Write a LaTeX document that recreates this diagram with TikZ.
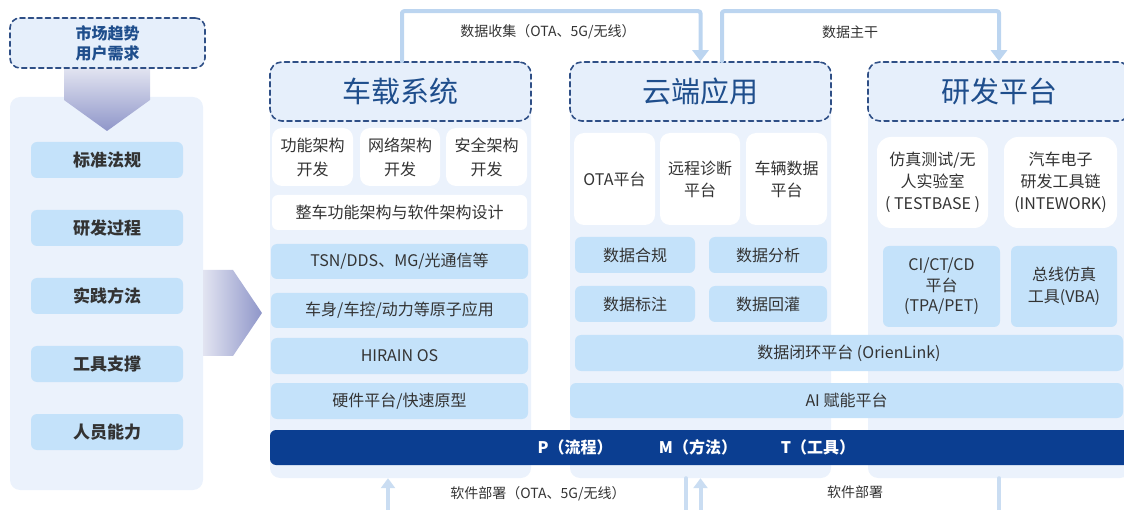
\documentclass[tikz,border=0pt]{standalone}
\usepackage{fontspec}
\setmainfont{Noto Sans CJK SC}
\usetikzlibrary{arrows.meta,shadings}

\definecolor{panelbg}{HTML}{EBF2FC}
\definecolor{hdrfill}{HTML}{E6EFFB}
\definecolor{dashblue}{HTML}{2F4F86}
\definecolor{hdrblue}{HTML}{1F4E8C}
\definecolor{itemblue}{HTML}{C4E2FA}
\definecolor{barblue}{HTML}{0B3E91}
\definecolor{txtgray}{HTML}{333333}
\definecolor{flowblue}{HTML}{BCD5F0}
\definecolor{flowlight}{HTML}{CADDF2}
\definecolor{shadelight}{HTML}{E2E4F1}
\definecolor{shadedark}{HTML}{8F96C9}

\begin{document}
\begin{tikzpicture}[x=1pt, y=-1pt, line cap=round, line join=round,
    every node/.style={font=\fontsize{16}{22}\selectfont, text=txtgray, inner sep=0pt, align=center},
    panel/.style={fill=panelbg, rounded corners=10pt},
    hdr/.style={draw=dashblue, dash pattern=on 5pt off 3.5pt, line width=1.6pt, fill=hdrfill,
        rounded corners=12pt, text=hdrblue, font=\fontsize{29}{32}\selectfont},
    bluebox/.style={fill=itemblue, rounded corners=6pt},
    whitebox/.style={fill=white, rounded corners=10pt},
    leftitem/.style={fill=itemblue, rounded corners=6pt, minimum width=152pt, minimum height=36pt,
        font=\fontsize{17}{20}\selectfont\bfseries},
    flow/.style={draw=flowblue, line width=4pt, rounded corners=2pt, -{Triangle[width=16pt,length=11pt]}},
    flowup/.style={draw=flowlight, line width=4pt, -{Triangle[width=14pt,length=10pt]}},
    lbl/.style={font=\fontsize{14}{16}\selectfont},
    pmt/.style={font=\fontsize{16}{20}\selectfont\bfseries, text=white}
  ]

  \useasboundingbox (0,0) rectangle (1124,510);
  \clip (0,0) rectangle (1124,510);

  % left side
  \node[panel, minimum width=193pt, minimum height=393pt] (leftpanel) at (106.5,293.5) {};
  \shade[top color=shadelight, bottom color=shadedark] (64,68) -- (150,68) -- (150,100) -- (107,131) -- (64,100) -- cycle;
  \node[hdr, minimum width=195pt, minimum height=50pt, font=\fontsize{16}{20}\selectfont\bfseries, rounded corners=10pt] (market) at (107.5,43) {市场趋势\\用户需求};

  \node[leftitem] (std) at (107,160) {标准法规};
  \node[leftitem] (proc) at (107,228) {研发过程};
  \node[leftitem] (prac) at (107,296) {实践方法};
  \node[leftitem] (tool) at (107,364) {工具支撑};
  \node[leftitem] (staff) at (107,432) {人员能力};

  \shade[left color=shadelight, right color=shadedark] (203,270) -- (233,270) -- (262,313) -- (233,356) -- (203,356) -- cycle;

  % column panels
  \node[panel, minimum width=261pt, minimum height=416pt] (colcar) at (400.5,270) {};
  \node[panel, minimum width=261pt, minimum height=416pt] (colcloud) at (700.5,270) {};
  \node[panel, minimum width=262pt, minimum height=416pt] (coldev) at (999,270) {};

  \node[hdr, minimum width=261pt, minimum height=59pt] (hdrcar) at (400.5,91.5) {车载系统};
  \node[hdr, minimum width=261pt, minimum height=59pt] (hdrcloud) at (700.5,91.5) {云端应用};
  \node[hdr, minimum width=262pt, minimum height=59pt] (hdrdev) at (999,91.5) {研发平台};

  % 车载系统
  \node[whitebox, minimum width=81pt, minimum height=58pt, font=\fontsize{16}{24}\selectfont] (funarch) at (312.5,157) {功能架构\\开发};
  \node[whitebox, minimum width=80pt, minimum height=58pt, font=\fontsize{16}{24}\selectfont] (netarch) at (400,157) {网络架构\\开发};
  \node[whitebox, minimum width=81pt, minimum height=58pt, font=\fontsize{16}{24}\selectfont] (secarch) at (486.5,157) {安全架构\\开发};
  \node[whitebox, rounded corners=6pt, minimum width=255pt, minimum height=35pt] (swarch) at (399.5,212.5) {整车功能架构与软件架构设计};
  \node[bluebox, minimum width=257pt, minimum height=35pt] (tsn) at (399.5,261.5) {TSN/DDS、MG/光通信等};
  \node[bluebox, minimum width=257pt, minimum height=35pt] (atom) at (399.5,310.5) {车身/车控/动力等原子应用};
  \node[bluebox, minimum width=257pt, minimum height=36pt] (os) at (399.5,356) {HIRAIN OS};
  \node[bluebox, minimum width=257pt, minimum height=36pt] (hw) at (399.5,401) {硬件平台/快速原型};

  % 云端应用
  \node[whitebox, minimum width=81pt, minimum height=92pt] (ota) at (614.5,179) {OTA平台};
  \node[whitebox, minimum width=80pt, minimum height=92pt] (diag) at (700,179) {远程诊断\\平台};
  \node[whitebox, minimum width=81pt, minimum height=92pt] (vdata) at (786.5,179) {车辆数据\\平台};
  \node[bluebox, minimum width=120pt, minimum height=36pt] (comply) at (635,255) {数据合规};
  \node[bluebox, minimum width=118pt, minimum height=36pt] (analy) at (768,255) {数据分析};
  \node[bluebox, minimum width=120pt, minimum height=36pt] (label) at (635,304) {数据标注};
  \node[bluebox, minimum width=118pt, minimum height=36pt] (inject) at (768,304) {数据回灌};
  \node[bluebox, minimum width=548pt, minimum height=36pt] (loop) at (849,353) {数据闭环平台 (OrienLink)};
  \node[bluebox, minimum width=553pt, minimum height=35pt] (ai) at (846.5,400.5) {AI 赋能平台};

  % 研发平台
  \node[whitebox, rounded corners=14pt, minimum width=111pt, minimum height=91pt] (testbase) at (932.5,182.5) {仿真测试/无\\人实验室\\( TESTBASE )};
  \node[whitebox, rounded corners=14pt, minimum width=113pt, minimum height=91pt] (intework) at (1060.5,182.5) {汽车电子\\研发工具链\\(INTEWORK)};
  \node[bluebox, minimum width=117pt, minimum height=81pt, font=\fontsize{16}{20.5}\selectfont] (cicd) at (941.5,286.5) {CI/CT/CD\\平台\\(TPA/PET)};
  \node[bluebox, minimum width=106pt, minimum height=81pt] (vba) at (1064,286.5) {总线仿真\\工具(VBA)};

  % PMT bar
  \fill[barblue, rounded corners=6pt] (270,430) rectangle (1140,465);
  \node[pmt] (pp) at (575,447.5) {P（流程）};
  \node[pmt] (mm) at (698,447.5) {M（方法）};
  \node[pmt] (tt) at (818,447.5) {T（工具）};

  % top connectors
  \draw[flow] ([xshift=1.5pt]hdrcar.north) -- ++(0,-50) -| (hdrcloud.north);
  \draw[flow] ([xshift=21.5pt]hdrcloud.north) -- ++(0,-50) -| (hdrdev.north);
  \node[lbl] (collect) at (548,32) {数据收集（OTA、5G/无线）};
  \node[lbl] (trunk) at (850,32) {数据主干};

  % bottom connectors
  \draw[flowup] ([xshift=-14.5pt]colcloud.south) -- ++(0,60) -| ([xshift=-12.5pt]colcar.south);
  \draw[flowup] (coldev.south) -- ++(0,50) -| (colcloud.south);
  \node[lbl] (deploy) at (538,494) {软件部署（OTA、5G/无线）};
  \node[lbl] (deploy2) at (855,492) {软件部署};

\end{tikzpicture}
\end{document}
